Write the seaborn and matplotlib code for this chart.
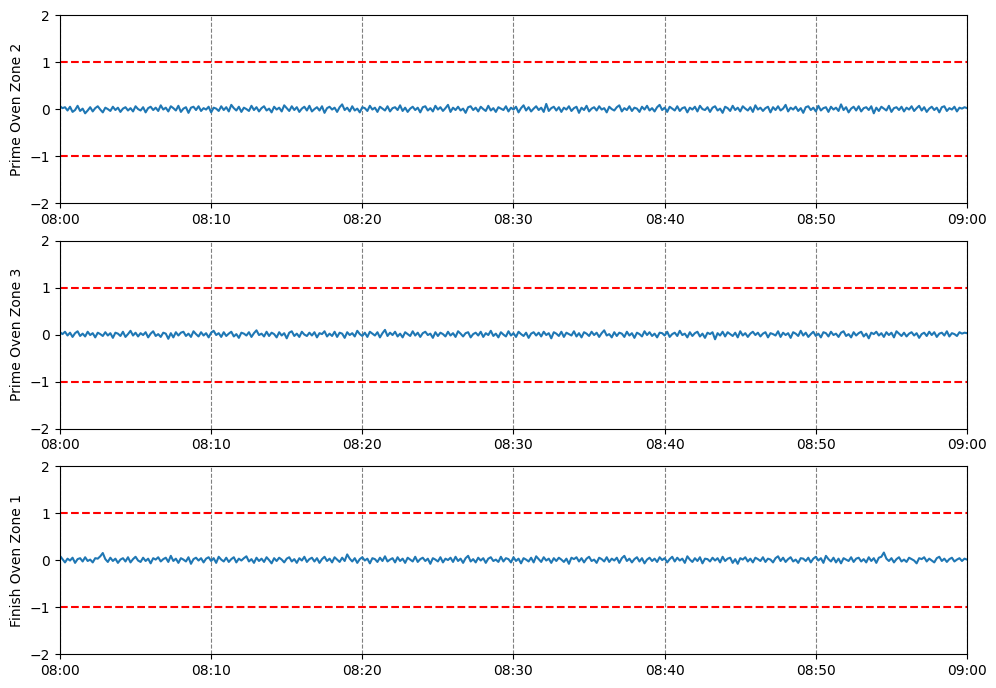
import pandas as pd
import seaborn as sns
import matplotlib.pyplot as plt
import matplotlib.dates as mdates

# readings roughly every 10 s from 08:00 to 09:00
start, end = '2023-01-01 08:00:00', '2023-01-01 09:00:00'

zone_names = ['Prime Oven Zone 2', 'Prime Oven Zone 3', 'Finish Oven Zone 1']

prime_zone2 = [
    0.06, 0.02, 0.04, -0.03, 0.05, -0.06, -0.02, 0.07, -0.04, 0.01, -0.09, -0.03, 0.04, -0.05, 0.02, 0.06, -0.01, -0.07, 0.03, 0.00,
    -0.04, 0.05, -0.02, 0.03, -0.06, 0.01, 0.04, -0.03, 0.02, -0.05, 0.06, 0.00, -0.03, 0.04, -0.07, 0.02, 0.05, -0.02, 0.03, -0.04,
    0.08, -0.01, 0.03, -0.05, 0.06, 0.02, -0.03, 0.07, -0.06, 0.01, 0.04, -0.08, 0.03, 0.05, -0.02, 0.06, -0.04, 0.02, -0.01, 0.05,
    -0.07, 0.03, 0.01, -0.04, 0.06, -0.02, 0.04, -0.05, 0.09, 0.02, -0.03, 0.05, -0.06, 0.03, 0.00, -0.04, 0.07, -0.02, 0.04, -0.05,
    0.02, 0.06, -0.03, 0.01, -0.07, 0.05, -0.01, 0.03, -0.05, 0.08, 0.02, -0.04, 0.06, -0.02, 0.04, -0.06, 0.01, 0.05, -0.03, 0.07,
    -0.05, 0.00, 0.04, -0.03, 0.06, -0.08, 0.02, 0.05, -0.01, 0.03, -0.06, 0.04, 0.10, -0.02, 0.03, -0.05, 0.06, -0.03, 0.01, -0.07,
    0.04, 0.02, -0.04, 0.07, -0.01, 0.03, -0.06, 0.05, 0.01, -0.03, 0.06, -0.05, 0.02, 0.04, -0.02, 0.08, -0.04, 0.03, -0.06, 0.01,
    0.05, -0.02, 0.03, -0.07, 0.04, 0.06, -0.03, 0.02, -0.05, 0.07, -0.01, 0.04, -0.04, 0.02, 0.09, -0.06, 0.03, -0.02, 0.05, -0.03,
    0.01, -0.08, 0.04, 0.06, -0.02, 0.03, -0.05, 0.05, 0.00, -0.04, 0.07, -0.03, 0.02, -0.06, 0.04, 0.01, -0.02, 0.06, -0.05, 0.03,
    -0.01, 0.05, -0.07, 0.02, 0.08, -0.03, 0.04, -0.05, 0.01, 0.06, -0.02, 0.03, -0.06, 0.11, -0.04, 0.02, 0.05, -0.03, 0.04, -0.06,
    0.03, -0.01, 0.06, -0.04, 0.02, 0.05, -0.08, 0.03, -0.02, 0.07, -0.05, 0.01, 0.04, -0.03, 0.06, -0.01, 0.02, -0.07, 0.05, 0.00,
    -0.03, 0.04, 0.08, -0.05, 0.02, -0.02, 0.06, -0.04, 0.03, 0.01, -0.06, 0.05, -0.01, 0.07, -0.03, 0.02, -0.05, 0.04, 0.09, -0.02,
    0.03, -0.06, 0.05, 0.01, -0.03, 0.06, -0.04, 0.02, 0.04, -0.07, 0.03, -0.01, 0.05, -0.05, 0.07, 0.00, -0.02, 0.04, -0.06, 0.03,
    0.06, -0.03, 0.01, -0.08, 0.05, 0.02, -0.04, 0.07, -0.02, 0.03, -0.05, 0.06, 0.01, -0.03, 0.04, -0.06, 0.08, -0.01, 0.03, -0.04,
    0.02, 0.05, -0.07, 0.04, -0.02, 0.06, -0.03, 0.01, 0.09, -0.05, 0.03, -0.01, 0.05, -0.04, 0.02, -0.08, 0.04, 0.06, -0.02, 0.03,
    -0.05, 0.07, -0.03, 0.02, 0.04, -0.06, 0.05, -0.01, 0.03, -0.04, 0.10, -0.02, 0.04, -0.07, 0.01, 0.05, -0.03, 0.06, -0.05, 0.02,
    0.04, -0.02, 0.06, -0.09, 0.03, -0.04, 0.05, 0.01, -0.03, 0.07, -0.06, 0.02, 0.04, -0.02, 0.05, -0.05, 0.03, -0.01, 0.06, -0.04,
    0.02, 0.07, -0.03, 0.04, -0.06, 0.01, 0.05, -0.02, 0.03, -0.07, 0.04, 0.06, -0.04, 0.02, -0.01, 0.05, -0.05, 0.03, 0.01, 0.04,
    0.02,
]

prime_zone3 = [
    0.05, 0.01, 0.06, -0.02, 0.04, -0.05, 0.03, 0.07, -0.03, 0.02, -0.04, 0.06, -0.01, 0.03, -0.06, 0.04, 0.01, -0.03, 0.05, -0.02,
    0.03, -0.07, 0.04, 0.02, -0.03, 0.06, -0.05, 0.01, 0.08, -0.02, 0.04, -0.04, 0.03, -0.01, 0.05, -0.06, 0.02, 0.07, -0.03, 0.01,
    -0.05, 0.04, 0.02, -0.09, 0.03, -0.06, 0.05, -0.02, 0.04, 0.06, -0.03, 0.02, -0.05, 0.07, 0.01, -0.04, 0.05, -0.02, 0.03, -0.06,
    0.04, 0.08, -0.01, 0.03, -0.05, 0.05, -0.03, 0.02, 0.06, -0.04, 0.01, -0.07, 0.04, 0.02, -0.02, 0.05, -0.05, 0.03, 0.09, -0.01,
    0.02, -0.04, 0.06, -0.03, 0.04, 0.01, -0.06, 0.05, -0.02, 0.03, -0.08, 0.04, 0.07, -0.03, 0.02, -0.05, 0.06, 0.00, -0.03, 0.04,
    -0.02, 0.05, -0.06, 0.03, 0.01, 0.07, -0.04, 0.02, -0.03, 0.06, -0.05, 0.04, 0.02, -0.07, 0.05, -0.01, 0.03, -0.04, 0.08, 0.01,
    -0.03, 0.04, -0.05, 0.06, 0.02, -0.02, 0.05, -0.06, 0.03, 0.10, -0.03, 0.04, -0.01, 0.06, -0.04, 0.02, -0.06, 0.05, 0.01, -0.03,
    0.07, -0.02, 0.04, -0.05, 0.03, 0.06, -0.01, 0.02, -0.07, 0.05, -0.03, 0.04, 0.01, -0.04, 0.06, -0.02, 0.03, -0.05, 0.07, 0.02,
    -0.04, 0.03, 0.05, -0.06, 0.01, 0.04, -0.02, 0.06, -0.05, 0.03, -0.01, 0.08, -0.03, 0.02, -0.06, 0.05, 0.00, -0.04, 0.07, -0.02,
    0.03, -0.05, 0.06, 0.01, -0.03, 0.04, -0.07, 0.02, 0.05, -0.02, 0.04, -0.04, 0.06, -0.01, 0.03, -0.08, 0.05, 0.02, -0.03, 0.06,
    -0.05, 0.04, 0.01, -0.02, 0.07, -0.04, 0.03, -0.06, 0.05, 0.02, -0.03, 0.06, -0.01, 0.04, -0.05, 0.03, 0.09, -0.02, 0.01, -0.06,
    0.05, -0.03, 0.04, 0.02, -0.05, 0.06, -0.02, 0.03, -0.07, 0.04, 0.01, -0.04, 0.07, -0.01, 0.05, -0.03, 0.02, -0.06, 0.04, 0.03,
    -0.02, 0.06, -0.05, 0.01, 0.04, -0.03, 0.08, -0.01, 0.02, -0.06, 0.05, -0.03, 0.03, 0.06, -0.04, 0.02, -0.07, 0.04, 0.01, 0.05,
    -0.10, 0.03, -0.02, 0.06, -0.04, 0.05, 0.01, -0.03, 0.04, -0.06, 0.07, -0.02, 0.03, -0.05, 0.02, 0.06, -0.01, 0.04, -0.04, 0.02,
    0.05, -0.06, 0.03, 0.01, -0.02, 0.07, -0.05, 0.04, -0.01, 0.03, -0.07, 0.05, 0.02, -0.03, 0.08, -0.02, 0.04, -0.05, 0.01, 0.06,
    -0.03, 0.02, -0.06, 0.05, 0.03, -0.04, 0.06, -0.01, 0.02, -0.05, 0.04, 0.07, -0.03, 0.01, -0.06, 0.05, -0.02, 0.03, 0.06, -0.04,
    0.02, -0.08, 0.04, 0.01, 0.06, -0.02, 0.03, -0.05, 0.05, -0.01, 0.04, -0.06, 0.07, 0.02, -0.03, 0.04, -0.04, 0.02, 0.05, -0.02,
    0.03, -0.07, 0.01, 0.04, -0.03, 0.06, -0.01, 0.05, -0.05, 0.02, 0.04, -0.02, 0.07, -0.04, 0.03, 0.01, -0.03, 0.05, 0.02, 0.04,
    0.03,
]

finish_zone1 = [
    0.09, 0.02, -0.05, 0.03, -0.01, 0.05, -0.06, 0.02, 0.04, -0.03, 0.06, -0.02, 0.01, -0.05, 0.04, 0.03, 0.08, 0.15, 0.02, -0.04,
    0.05, -0.02, 0.03, -0.06, 0.01, 0.04, -0.03, 0.06, -0.05, 0.02, 0.07, -0.01, -0.04, 0.05, -0.02, 0.03, -0.07, 0.04, 0.01, 0.06,
    -0.03, 0.02, 0.05, -0.04, 0.09, -0.02, 0.03, -0.06, 0.04, 0.01, -0.03, 0.06, -0.08, 0.02, 0.05, -0.01, 0.04, -0.05, 0.03, 0.06,
    -0.02, 0.04, -0.06, 0.07, 0.01, -0.03, 0.05, -0.04, 0.02, 0.06, -0.05, 0.03, -0.01, 0.04, 0.08, -0.03, 0.02, -0.06, 0.05, -0.02,
    0.03, -0.04, 0.06, 0.00, -0.07, 0.04, -0.02, 0.05, 0.01, -0.05, 0.03, 0.06, -0.03, 0.02, -0.06, 0.04, -0.01, 0.07, -0.04, 0.02,
    0.05, -0.03, 0.04, -0.06, 0.02, 0.07, -0.02, 0.03, -0.05, 0.06, 0.01, -0.04, 0.05, -0.02, 0.12, 0.03, -0.03, 0.04, -0.06, 0.02,
    0.06, -0.01, 0.03, -0.07, 0.04, 0.02, -0.04, 0.05, -0.02, 0.08, -0.03, 0.01, 0.04, -0.05, 0.06, -0.02, 0.03, -0.06, 0.05, 0.01,
    -0.03, 0.07, -0.04, 0.02, 0.05, -0.02, 0.03, -0.08, 0.04, 0.01, -0.03, 0.06, -0.05, 0.03, 0.00, 0.05, -0.04, 0.07, -0.02, 0.03,
    -0.06, 0.04, 0.09, -0.03, 0.02, -0.05, 0.05, -0.01, 0.04, -0.06, 0.03, 0.06, -0.02, 0.01, -0.04, 0.07, -0.03, 0.04, 0.02, -0.05,
    0.06, -0.02, 0.03, -0.07, 0.04, 0.01, -0.03, 0.05, -0.05, 0.08, 0.02, -0.04, 0.06, -0.01, 0.03, -0.06, 0.04, -0.02, 0.05, 0.01,
    -0.04, 0.03, -0.08, 0.05, 0.02, 0.06, -0.03, 0.04, -0.05, 0.03, 0.07, -0.02, 0.01, -0.06, 0.05, 0.02, -0.03, 0.06, -0.04, 0.03,
    -0.01, 0.05, -0.06, 0.04, 0.09, -0.02, 0.03, -0.05, 0.02, 0.06, -0.03, 0.04, -0.07, 0.01, 0.05, -0.02, 0.03, -0.04, 0.06, 0.00,
    0.04, -0.05, 0.02, 0.07, -0.03, 0.05, -0.01, 0.03, -0.06, 0.08, 0.01, -0.04, 0.04, -0.02, 0.06, -0.07, 0.03, 0.02, -0.03, 0.05,
    -0.01, 0.04, -0.05, 0.07, -0.02, 0.03, 0.05, -0.06, 0.02, -0.08, 0.04, 0.01, 0.06, -0.03, 0.03, -0.05, 0.05, 0.02, -0.02, 0.06,
    -0.04, 0.03, 0.01, -0.05, 0.04, 0.08, -0.02, 0.05, -0.04, 0.02, 0.06, -0.03, 0.01, -0.06, 0.04, 0.03, -0.02, 0.05, -0.05, 0.03,
    0.07, -0.01, 0.04, -0.06, 0.09, 0.02, -0.03, 0.05, -0.05, 0.03, -0.07, 0.04, 0.01, -0.02, 0.06, -0.04, 0.03, 0.05, -0.03, 0.02,
    -0.05, 0.06, -0.02, 0.04, -0.06, 0.05, 0.07, 0.16, 0.03, -0.02, 0.04, -0.05, 0.02, 0.06, -0.03, 0.01, -0.04, 0.05, 0.02, -0.01,
    -0.07, 0.04, 0.02, 0.06, -0.03, 0.03, -0.01, -0.05, 0.04, 0.07, -0.02, 0.03, -0.04, 0.02, 0.05, -0.03, 0.01, 0.04, -0.02, 0.03,
    0.01,
]

limits = [-1, 1]
series = [prime_zone2, prime_zone3, finish_zone1]

fig, axes = plt.subplots(3, 1, figsize=(9.96, 6.88))
fig.subplots_adjust(left=0.0602, right=0.9709, top=0.978, bottom=0.0494, hspace=0.2)

for ax, name, vals in zip(axes, zone_names, series):
    times = pd.date_range(start, end, periods=len(vals))
    df = pd.DataFrame({'time': times, 'value': vals})
    sns.lineplot(data=df, x='time', y='value', ax=ax, color='#1f77b4', linewidth=1.5)
    for lim in limits:
        ax.axhline(lim, color='red', linestyle='--', linewidth=1.5)
    ax.set_ylim(-2, 2)
    ax.set_yticks([-2, -1, 0, 1, 2])
    ax.set_xlim(pd.Timestamp(start), pd.Timestamp(end))
    ax.xaxis.set_major_locator(mdates.MinuteLocator(byminute=range(0, 60, 10)))
    ax.xaxis.set_major_formatter(mdates.DateFormatter('%H:%M'))
    ax.grid(axis='x', linestyle='--', color='gray', linewidth=0.8)
    ax.set_xlabel('')
    ax.set_ylabel(name)

fig.savefig('out.png', dpi=100)
